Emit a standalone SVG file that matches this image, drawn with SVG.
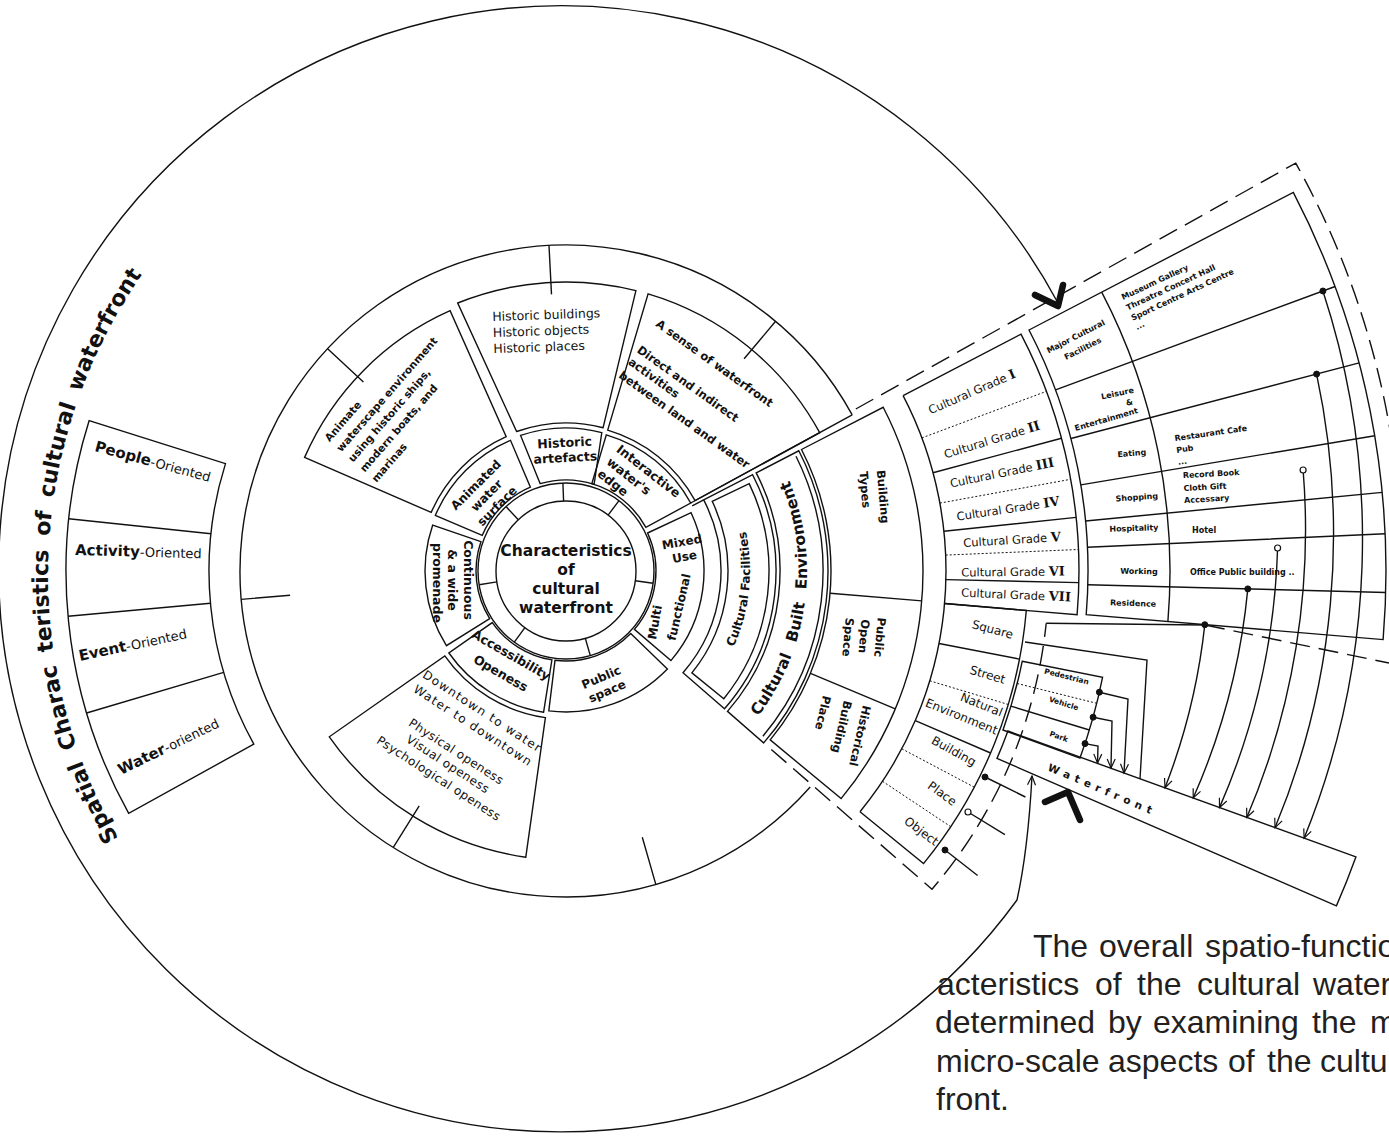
<svg xmlns="http://www.w3.org/2000/svg" width="1389" height="1146" viewBox="0 0 1389 1146">
<style>
.ln{fill:none;stroke:#111;stroke-width:1.4}
.dl{fill:none;stroke:#111;stroke-width:1.4;stroke-dasharray:20 9}
.dt{fill:none;stroke:#111;stroke-width:1;stroke-dasharray:2 2}
.t{font-family:"DejaVu Sans",Verdana,sans-serif;fill:#111}
.b{font-weight:bold}
.sf{font-family:"DejaVu Serif",serif;font-weight:bold}
.para{font-family:"Liberation Sans",Arial,sans-serif;font-size:32px;fill:#231f20}
.fd{fill:#111;stroke:#111;stroke-width:1}
.od{fill:#fff;stroke:#111;stroke-width:1.2}
.chev{fill:none;stroke:#111;stroke-width:6.5;stroke-linecap:round;stroke-linejoin:round}
</style>
<defs>
<marker id="ar" markerUnits="userSpaceOnUse" markerWidth="12" markerHeight="10" refX="10" refY="5" orient="auto"><path d="M1,1 L10,5 L1,9" fill="none" stroke="#111" stroke-width="1.2"/></marker>
<path id="pSpatial" d="M118.6,838.5 A527,527 0 0 1 171.3,236.3"/>
<path id="pCF" d="M711,684.3 A184,184 0 0 0 731.4,490.3"/>
<path id="pCBE" d="M736.4,741.4 A241,241 0 0 0 774.7,450.5"/>
</defs>

<g id="rings">
<path class="ln" d="M810.2,787 A326,326 0 1 1 852.2,414.9"/>
<path class="ln" d="M327.6,348.7 L363.4,382.1 M549,245.5 L551.5,294.4 M775.6,321.3 L744.1,358.8 M241.2,599.4 L290.1,595.2 M393.3,847.4 L419.2,805.9 M655.8,884.4 L642.3,837.3"/>
<path class="ln" d="M690.7,503 L852.2,414.9 M692.2,505.9 L703.7,499.9"/>
<path class="dl" d="M855.8,409 L1295.7,163.1 A836,836 0 0 1 1393.9,687.4"/>
<path class="dl" d="M771.3,749.5 L932,889.2 A485,485 0 0 0 1046.2,623.2"/>
<path class="ln" d="M1046.2,623.2 L1205,625"/>
<path class="dl" d="M1205,625 L1389,663"/>
</g>

<g id="core">
<circle cx="566" cy="571" r="70" class="ln"/>
<circle cx="566" cy="571" r="88" class="ln"/>
<path class="ln" d="M496.9,581.9 L479.1,584.8 M518.3,519.8 L506,506.6 M563.6,501 L562.9,483.1 M608.1,515.1 L619,500.7 M635.3,580.7 L653.1,583.2 M585.3,638.3 L590.3,655.6 M524.9,627.6 L514.3,642.2"/>
<text class="t b" font-size="15.5" text-anchor="middle"><tspan x="566" y="555.5">Characteristics</tspan><tspan x="566" y="574.5">of</tspan><tspan x="566" y="593.5">cultural</tspan><tspan x="566" y="612.5">waterfront</tspan></text>
</g>

<g id="animated">
<path class="ln" d="M482.2,535.4 L435.3,515.5 A142,142 0 0 1 510.5,440.3 L530.4,487.2 A91,91 0 0 0 482.2,535.4 Z"/>
<g transform="translate(476,485) rotate(-45)"><text class="t b" font-size="12" text-anchor="middle"><tspan x="0" y="4">Animated</tspan><tspan x="0" y="19">water</tspan><tspan x="0" y="34">surface</tspan></text></g>
</g>
<g id="animate-box">
<path class="ln" d="M431.2,512.4 L304.6,457.4 A285,285 0 0 1 450.1,310.7 L506.2,436.7 A147,147 0 0 0 431.2,512.4 Z"/>
<g transform="translate(329.6,442.3) rotate(-49)"><text class="t b" font-size="10.5"><tspan x="0" y="0">Animate</tspan><tspan x="0" y="15.5">waterscape environment</tspan><tspan x="0" y="31">using historic ships,</tspan><tspan x="0" y="46.5">modern boats, and</tspan><tspan x="0" y="62">marinas</tspan></text></g>
</g>

<g id="historic-artefacts">
<path class="ln" d="M540.2,483.7 L520.6,435.4 A143,143 0 0 1 601.8,432.6 L594.1,484.4 A91,91 0 0 0 540.2,483.7 Z"/>
<g transform="translate(565,451) rotate(-3)"><text class="t b" font-size="12.5" text-anchor="middle"><tspan x="0" y="-4">Historic</tspan><tspan x="0" y="11">artefacts</tspan></text></g>
</g>
<g id="historic-box">
<path class="ln" d="M516.6,431.5 L457.7,303 A289,289 0 0 1 635.9,290.6 L603.1,427.7 A148,148 0 0 0 516.6,431.5 Z"/>
<g transform="rotate(-2 493 337)"><text class="t" font-size="12.5"><tspan x="493" y="321">Historic buildings</tspan><tspan x="493" y="337">Historic objects</tspan><tspan x="493" y="353">Historic places</tspan></text></g>
</g>

<g id="interactive">
<path class="ln" d="M591.8,483.7 L606.3,434.8 A142,142 0 0 1 690.7,503 L645.9,527.4 A91,91 0 0 0 591.8,483.7 Z"/>
<g transform="translate(615.5,451) rotate(38)"><text class="t b" font-size="12.5"><tspan x="0" y="0">Interactive</tspan><tspan x="0" y="16">water's</tspan><tspan x="0" y="31">edge</tspan></text></g>
</g>
<g id="sense-box">
<path class="ln" d="M607.7,430.1 L648.1,293.9 A289,289 0 0 1 819.7,432.7 L695.1,500.6 A147,147 0 0 0 607.7,430.1 Z"/>
<g transform="rotate(35.6)"><text class="t b" font-size="11.5"><tspan x="722" y="-116.6">A sense of waterfront</tspan><tspan x="722" y="-84.4">Direct and indirect</tspan><tspan x="722" y="-69.5">activities</tspan><tspan x="722" y="-53.1">between land and water</tspan></text></g>
</g>

<g id="mixed-use">
<path class="ln" d="M647.6,533 L691.1,512.7 A138,138 0 0 1 670.9,660.6 L634.4,629.4 A90,90 0 0 0 647.6,533 Z"/>
<g transform="translate(682,542) rotate(-10)"><text class="t b" font-size="12" text-anchor="middle"><tspan x="0" y="4">Mixed</tspan><tspan x="0" y="19">Use</tspan></text></g>
<text class="t b" font-size="12" text-anchor="middle" transform="translate(659,623) rotate(-80)">Multi</text>
<text class="t b" font-size="12" text-anchor="middle" transform="translate(683,608) rotate(-77)">functional</text>
</g>

<g id="public-space">
<path class="ln" d="M630.7,633.5 L667.4,669 A141,141 0 0 1 548.8,710.9 L555,660.3 A90,90 0 0 0 630.7,633.5 Z"/>
<g transform="translate(604,684) rotate(-23)"><text class="t b" font-size="12" text-anchor="middle"><tspan x="0" y="-3">Public</tspan><tspan x="0" y="12">space</tspan></text></g>
</g>

<g id="accessibility">
<path class="ln" d="M551.9,659.9 L543.6,712.2 A143,143 0 0 1 448.9,653 L492.3,622.6 A90,90 0 0 0 551.9,659.9 Z"/>
<g transform="translate(506,664) rotate(30)"><text class="t b" font-size="12.5" text-anchor="middle"><tspan x="0" y="-6">Accessibility</tspan><tspan x="0" y="15">Openess</tspan></text></g>
</g>
<g id="downtown-box">
<path class="ln" d="M545.4,717.6 L525.8,857.2 A289,289 0 0 1 329.3,736.8 L444.8,655.9 A148,148 0 0 0 545.4,717.6 Z"/>
<g transform="rotate(33)"><text class="t" font-size="12" text-anchor="middle"><tspan x="792" y="338" letter-spacing="1.3">Downtown to water</tspan><tspan x="792" y="355" letter-spacing="1.3">Water to downtown</tspan><tspan x="792" y="386" letter-spacing="0.5">Physical openess</tspan><tspan x="792" y="401" letter-spacing="0.5">Visual openess</tspan><tspan x="792" y="418" letter-spacing="0.5">Psychological openess</tspan></text></g>
</g>

<g id="promenade">
<path class="ln" d="M489.7,618.7 L446.4,645.7 A141,141 0 0 1 432.7,525.1 L480.9,541.7 A90,90 0 0 0 489.7,618.7 Z"/>
<text class="t b" font-size="12.5" text-anchor="middle" transform="translate(464,580) rotate(90)">Continuous</text>
<text class="t b" font-size="12.5" text-anchor="middle" transform="translate(448,580) rotate(90)">&amp; a wide</text>
<text class="t b" font-size="12.5" text-anchor="middle" transform="translate(433,583) rotate(90)">promenade</text>
</g>

<g id="oriented">
<path class="ln" d="M253.8,744.1 L128.7,813.4 A500,500 0 0 1 89.1,420.7 L225.5,463.6 A357,357 0 0 0 253.8,744.1 Z"/>
<path class="ln" d="M223.7,672.4 L86.6,713 M210.5,603.3 L68.1,616.3 M211,533.7 L68.7,518.7"/>
<text class="t" transform="translate(94,451) rotate(15)"><tspan class="b" font-size="15">People</tspan><tspan font-size="13">-Oriented</tspan></text>
<text class="t" transform="translate(75,555) rotate(1.5)"><tspan class="b" font-size="15">Activity</tspan><tspan font-size="13">-Oriented</tspan></text>
<text class="t" transform="translate(80,661) rotate(-12)"><tspan class="b" font-size="15">Event</tspan><tspan font-size="13">-Oriented</tspan></text>
<text class="t" transform="translate(121,775) rotate(-26)"><tspan class="b" font-size="15">Water</tspan><tspan font-size="13">-oriented</tspan></text>
</g>

<g id="spatial-title">
<text class="t b" font-size="22" word-spacing="6"><textPath href="#pSpatial">Spatial Charac teristics of cultural waterfront</textPath></text>
</g>

<g id="cultural-facilities">
<path class="ln" d="M703.7,499.9 L752.6,474.7 A210,210 0 0 1 724.5,708.8 L683,672.7 A155,155 0 0 0 703.7,499.9 Z"/>
<path class="ln" d="M712.2,501.3 L749.2,483.6 A203,203 0 0 1 723.8,698.7 L691.9,672.9 A162,162 0 0 0 712.2,501.3 Z"/>
<text class="t b" font-size="12" text-anchor="middle"><textPath href="#pCF" startOffset="50%">Cultural Facilities</textPath></text>
</g>
<g id="cultural-built-environment">
<path class="ln" d="M756.2,472.9 L798.8,450.8 A262,262 0 0 1 763.7,742.9 L727.5,711.4 A214,214 0 0 0 756.2,472.9 Z"/>
<path class="ln" d="M796,456.3 A257,257 0 0 1 762.9,736.2"/>
<text class="t b" font-size="15.5" text-anchor="middle" word-spacing="8"><textPath href="#pCBE" startOffset="50%">Cultural Built Environment</textPath></text>
</g>

<g id="building-types">
<path class="ln" d="M801.5,449.5 L883.2,407.3 A357,357 0 0 1 841.1,798.6 L770.2,739.9 A265,265 0 0 0 801.5,449.5 Z"/>
<path class="ln" d="M830.1,593.2 L921.8,600.9 M810.5,673.3 L895.3,708.8"/>
<text class="t b" font-size="11.5" text-anchor="middle" transform="translate(879,497) rotate(85)">Building</text>
<text class="t b" font-size="11.5" text-anchor="middle" transform="translate(861,490) rotate(85)">Types</text>
<text class="t b" font-size="11.5" text-anchor="middle" transform="translate(876,637) rotate(95)">Public</text>
<text class="t b" font-size="11.5" text-anchor="middle" transform="translate(860,636) rotate(95)">Open</text>
<text class="t b" font-size="11.5" text-anchor="middle" transform="translate(844,637) rotate(95)">Space</text>
<text class="t b" font-size="11.5" text-anchor="middle" transform="translate(856,735) rotate(103)">Historical</text>
<text class="t b" font-size="11.5" text-anchor="middle" transform="translate(838,726) rotate(103)">Building</text>
<text class="t b" font-size="11.5" text-anchor="middle" transform="translate(819,712) rotate(103)">Place</text>
</g>

<g id="cultural-grades">
<path class="ln" d="M903.1,395.6 L1021,334.1 A513,513 0 0 1 1077.1,614.8 L944.6,603.5"/>
<path class="ln" d="M903.1,395.6 A380,380 0 0 1 860,811.7"/>
<path class="ln" d="M933,472.7 L1061.5,438.2 M943.9,531.3 L1076.2,517.4 M945.9,579.6 L1078.8,582.6"/>
<path class="dt" d="M921.9,437.9 L1046.5,391.3 M939.9,503.1 L1070.7,479.3 M945.7,555.1 L1078.5,549.5"/>
<g class="t" font-size="11.5" text-anchor="middle">
<text transform="translate(972,392) rotate(-23.5)" y="4">Cultural Grade <tspan class="sf" font-size="13">I</tspan></text>
<text transform="translate(992,440) rotate(-17)" y="4">Cultural Grade <tspan class="sf" font-size="13">II</tspan></text>
<text transform="translate(1002,473) rotate(-11.5)" y="4">Cultural Grade <tspan class="sf" font-size="13">III</tspan></text>
<text transform="translate(1008,509) rotate(-8.5)" y="4">Cultural Grade <tspan class="sf" font-size="13">IV</tspan></text>
<text transform="translate(1012,540) rotate(-3.5)" y="4">Cultural Grade <tspan class="sf" font-size="13">V</tspan></text>
<text transform="translate(1013,572) rotate(-0.5)" y="4">Cultural Grade <tspan class="sf" font-size="13">VI</tspan></text>
<text transform="translate(1016,595) rotate(2.5)" y="4">Cultural Grade <tspan class="sf" font-size="13">VII</tspan></text>
</g>
</g>

<g id="micro-elements">
<path class="ln" d="M944.6,603.5 L1026.3,610.5 A462,462 0 0 1 923.5,863.6 L860,811.7"/>
<path class="ln" d="M939,643.5 L1019.5,659.1 M915.3,720.7 L990.6,753"/>
<path class="dt" d="M929.8,680.8 L1008.3,704.5 M901.8,748.8 L974.3,787.2 M882.5,781.3 L950.8,826.7"/>
<g class="t" font-size="12" text-anchor="end">
<text transform="translate(1013,635) rotate(15)" y="4">Square</text>
<text transform="translate(1005,680) rotate(16.5)" y="4">Street</text>
<text transform="translate(1002,713) rotate(22)" y="4">Natural</text>
<text transform="translate(997,731) rotate(22)" y="4">Environment</text>
<text transform="translate(975,763) rotate(29)" y="4">Building</text>
<text transform="translate(955,803) rotate(36)" y="4">Place</text>
<text transform="translate(937,843) rotate(37)" y="4">Object</text>
</g>
</g>

<g id="functions">
<path class="ln" d="M1029,330 L1293.3,192.4 A820,820 0 0 1 1383.1,639.6 L1086.2,614.7 A522,522 0 0 0 1029,330 Z"/>
<path class="ln" d="M1101.7,292.1 A604,604 0 0 1 1167.9,621.6"/>
<path class="ln" d="M1055.6,389.9 L1335.1,286.5 M1070.9,438.5 L1359.2,362.9 M1080.8,484.9 L1374.8,435.7 M1085.6,521 L1382.2,492.4 M1087.5,547.3 L1385.2,533.8 M1087.8,584.7 L1385.8,592.5"/>
<g class="t b" font-size="8" text-anchor="middle">
<text transform="translate(1077,339) rotate(-27)">Major Cultural</text>
<text transform="translate(1084,351) rotate(-27)">Facilities</text>
<text transform="translate(1118,396) rotate(-12)">Leisure</text>
<text transform="translate(1130,405) rotate(-12)">&amp;</text>
<text transform="translate(1107,422) rotate(-16)">Entertainment</text>
<text transform="translate(1132,456) rotate(-5)">Eating</text>
<text transform="translate(1137,500) rotate(-4)">Shopping</text>
<text transform="translate(1134,531) rotate(-2)">Hospitality</text>
<text transform="translate(1139,574) rotate(1)">Working</text>
<text transform="translate(1133,606) rotate(2)">Residence</text>
</g>
<g class="t b" font-size="8" xml:space="preserve">
<g transform="translate(1123,300) rotate(-25)"><text><tspan x="0" y="0">Museum   Gallery</tspan><tspan x="0" y="11.5">Threatre  Concert Hall</tspan><tspan x="0" y="23">Sport Centre   Arts Centre</tspan><tspan x="0" y="33">...</tspan></text></g>
<g transform="translate(1175,441) rotate(-8)"><text><tspan x="0" y="0">Restaurant    Cafe</tspan><tspan x="0" y="12">Pub</tspan><tspan x="0" y="24">...</tspan></text></g>
<g transform="translate(1183,478) rotate(-3)"><text><tspan x="0" y="0">Record  Book</tspan><tspan x="0" y="13">Cloth   Gift</tspan><tspan x="0" y="25">Accessary</tspan></text></g>
<text x="1192" y="533">Hotel</text>
<text x="1190" y="575">Office  Public building  ..</text>
</g>
</g>

<g id="pedestrian-box">
<path class="ln" d="M1022.2,661.3 L1102.6,677.2 A547,547 0 0 1 1080,758.1 L1003,730 A465,465 0 0 0 1022.2,661.3 Z"/>
<path class="dt" d="M1017.2,683.5 L1096.8,703.3"/>
<path class="ln" d="M1010.9,706.2 L1089.4,730"/>
<g class="t b" font-size="7.5" text-anchor="middle">
<text transform="translate(1066,679) rotate(14)">Pedestrian</text>
<text transform="translate(1063,706) rotate(17)">Vehicle</text>
<text transform="translate(1058,739) rotate(20)">Park</text>
</g>
</g>

<g id="waterfront">
<path class="ln" d="M1007.9,731 L1355.9,856.9 A840,840 0 0 1 1336.4,905.9 L997,758.4 A470,470 0 0 0 1007.9,731 Z"/>
<text class="t b" font-size="10.5" letter-spacing="5.2" text-anchor="middle" transform="translate(1101,793) rotate(23)">Waterfront</text>
</g>

<g id="connectors">
<path class="ln" d="M1058,303 A563,563 0 1 0 1017,900 Q1028,850 1032,776" marker-end="url(#ar)"/>
<path class="chev" d="M1035,295 L1058,306 L1063,285"/>
<path class="chev" d="M1045,802 L1068,792 L1080,820"/>
<path class="ln" d="M1322.9,291 A796,796 0 0 1 1304.1,838.2" marker-end="url(#ar)"/>
<path class="ln" d="M1316.6,374.1 A765,765 0 0 1 1275,827.7" marker-end="url(#ar)"/>
<path class="ln" d="M1303.1,470 A734,734 0 0 1 1246.8,817.5" marker-end="url(#ar)"/>
<path class="ln" d="M1277.6,548 A703,703 0 0 1 1219.5,807.6" marker-end="url(#ar)"/>
<path class="ln" d="M1247.8,588.9 A674,674 0 0 1 1193.2,798" marker-end="url(#ar)"/>
<path class="ln" d="M1204.8,624.7 A639,639 0 0 1 1165,787.8" marker-end="url(#ar)"/>
<path class="ln" d="M1099.4,692.2 L1128,699 L1124,773" marker-end="url(#ar)"/>
<path class="ln" d="M1093.1,717.2 L1112,721 L1111,768" marker-end="url(#ar)"/>
<path class="ln" d="M1085,743.6 L1098,746 L1097.5,763" marker-end="url(#ar)"/>
<path class="ln" d="M1025,642 L1147,660 L1140,779"/>
<path class="ln" d="M985,777 L1025.4,797 M968,812 L1004.9,834.7 M945,850 L977.6,875.5"/>
<circle class="fd" cx="1322.9" cy="291" r="3"/>
<circle class="fd" cx="1316.6" cy="374.1" r="3"/>
<circle class="od" cx="1303.1" cy="470" r="3"/>
<circle class="od" cx="1277.6" cy="548" r="3"/>
<circle class="fd" cx="1247.8" cy="588.9" r="3"/>
<circle class="fd" cx="1204.8" cy="624.7" r="3"/>
<circle class="fd" cx="1099.4" cy="692.2" r="3"/>
<circle class="fd" cx="1093.1" cy="717.2" r="3"/>
<circle class="fd" cx="1085" cy="743.6" r="3"/>
<circle class="fd" cx="985" cy="777" r="3"/>
<circle class="od" cx="968" cy="812" r="3"/>
<circle class="fd" cx="945" cy="850" r="3"/>
</g>

<g id="paragraph">
<text class="para"><tspan x="1033" y="957">The</tspan><tspan x="1099" y="957">overall</tspan><tspan x="1205" y="957">spatio-functio</tspan></text>
<text class="para"><tspan x="937" y="995">acteristics</tspan><tspan x="1095" y="995">of</tspan><tspan x="1137" y="995">the</tspan><tspan x="1197" y="995">cultural</tspan><tspan x="1313" y="995">water</tspan></text>
<text class="para"><tspan x="935" y="1033">determined</tspan><tspan x="1108" y="1033">by</tspan><tspan x="1153" y="1033">examining</tspan><tspan x="1312" y="1033">the</tspan><tspan x="1370" y="1033">m</tspan></text>
<text class="para"><tspan x="936" y="1072">micro-scale</tspan><tspan x="1108" y="1072">aspects</tspan><tspan x="1228" y="1072">of</tspan><tspan x="1267" y="1072">the</tspan><tspan x="1320" y="1072">cultu</tspan></text>
<text class="para"><tspan x="936" y="1110">front.</tspan></text>
</g>
</svg>
